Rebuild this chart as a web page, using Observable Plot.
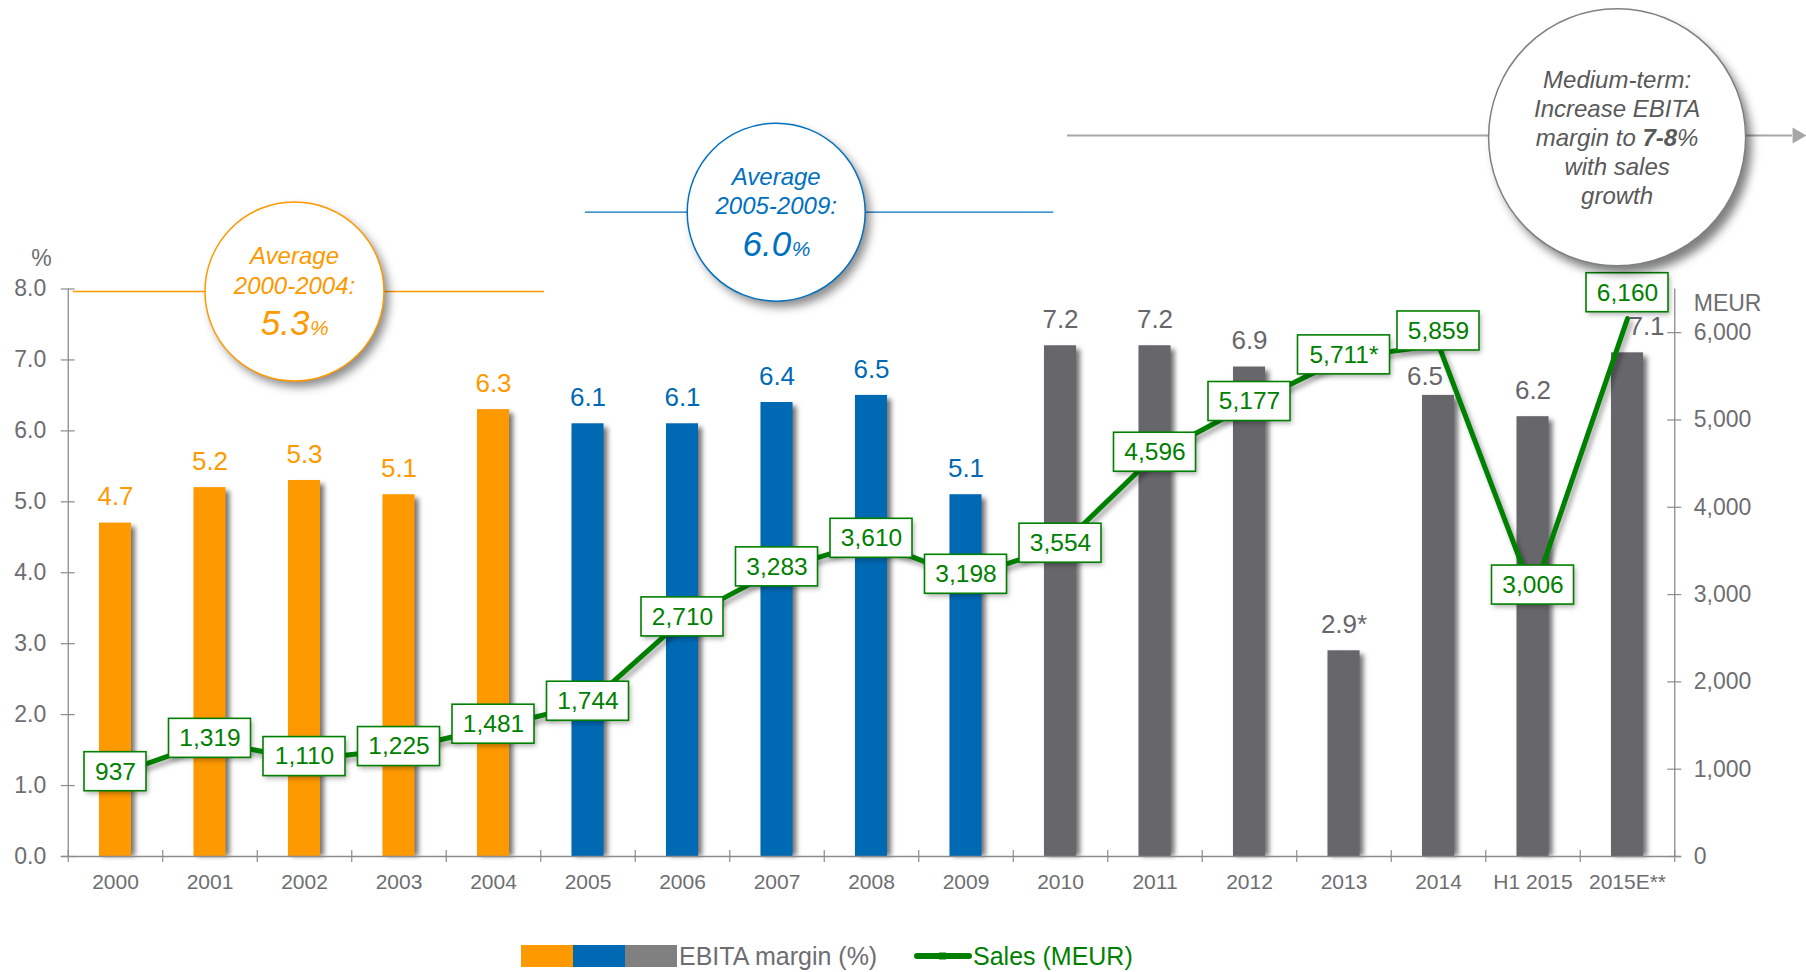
<!DOCTYPE html>
<html>
<head>
<meta charset="utf-8">
<script src="https://cdn.jsdelivr.net/npm/d3@7"></script>
<script src="https://cdn.jsdelivr.net/npm/@observablehq/plot@0.6"></script>
<style>
  html, body { margin: 0; padding: 0; background: #fff; overflow: hidden; }
  body { font-family: "Liberation Sans", Arial, sans-serif; }
  #wrap { position: relative; width: 1806px; height: 972px; overflow: hidden; background: #fff; }
  #chart svg { display: block; }
  #legend { position: absolute; left: 0; top: 930px; width: 1806px; height: 42px; }
</style>
</head>
<body>
<div id="wrap"><div id="chart"></div><div id="legend"></div></div>
<script>
// ---------------- data ----------------
const categories = ["2000","2001","2002","2003","2004","2005","2006","2007","2008","2009","2010","2011","2012","2013","2014","H1 2015","2015E**"];
const ebitaMargin = [4.7, 5.2, 5.3, 5.1, 6.3, 6.1, 6.1, 6.4, 6.5, 5.1, 7.2, 7.2, 6.9, 2.9, 6.5, 6.2, 7.1];
const ebitaLabels = ["4.7","5.2","5.3","5.1","6.3","6.1","6.1","6.4","6.5","5.1","7.2","7.2","6.9","2.9*","6.5","6.2","7.1"];
const periods = ["2000-2004","2000-2004","2000-2004","2000-2004","2000-2004",
                 "2005-2009","2005-2009","2005-2009","2005-2009","2005-2009",
                 "2010-2015","2010-2015","2010-2015","2010-2015","2010-2015","2010-2015","2010-2015"];
const periodNames = ["2000-2004","2005-2009","2010-2015"];
const periodColors = ["#FF9900","#0069B4","#67666B"];
const sales = [937, 1319, 1110, 1225, 1481, 1744, 2710, 3283, 3610, 3198, 3554, 4596, 5177, 5711, 5859, 3006, 6160];
const salesLabels = ["937","1,319","1,110","1,225","1,481","1,744","2,710","3,283","3,610","3,198","3,554","4,596","5,177","5,711*","5,859","3,006","6,160"];
const leftTicks = [0, 1, 2, 3, 4, 5, 6, 7, 8];
const rightTicks = [0, 1000, 2000, 3000, 4000, 5000, 6000];
const marginMax = 8;
const salesMax = 6500;
const averageNotes = [
  {period: "2000-2004", word: "Average", range: "2000-2004:", value: "5.3", unit: "%"},
  {period: "2005-2009", word: "Average", range: "2005-2009:", value: "6.0", unit: "%"}
];
const targetLines = ["Medium-term:", "Increase EBITA", "margin to", "7-8", "%", "with sales", "growth"];
const legendItems = ["EBITA margin (%)", "Sales (MEUR)"];

// ---------------- styling / layout ----------------
const green = "#008000";
const axisGray = "#8C8C8C";
const textGray = "#6D6E71";
const shadowS = "#010101";   // small-blur shadows
const shadowL = "#020202";   // large-blur shadows
const noteColors = {"2000-2004": "#FF9900", "2005-2009": "#0070C0"};
const W = 1806, H = 930, mL = 67.75, mR = 131.75, mT = 288.5, mB = 74;
const frameW = W - mL - mR, frameH = H - mT - mB;
const step = frameW / categories.length;
const padIn = 0.661;
const bandW = step * (1 - padIn);
const ppu = frameH / marginMax;          // pixels per % unit
const k = marginMax / salesMax;          // sales -> % axis
const last = categories[categories.length - 1];

const rows = categories.map((cat, i) => ({
  cat, ebita: ebitaMargin[i], elabel: ebitaLabels[i], period: periods[i],
  slabel: salesLabels[i], s: sales[i] * k
}));

// label placement tweaks (pixels)
const salesLift = {"2014": 14, "H1 2015": 9, "2015E**": 26};
const liftOf = d => (salesLift[d.cat] ?? 3) / ppu;
const barLabelNudge = {"2014": [-13.5, 7], "2015E**": [19, 0]};

const salesFs = 24.5;
const charW = {",": 0.278, "*": 0.389, ".": 0.278};
const boxW = t => Math.round([...t].reduce((a, c) => a + (charW[c] ?? 0.556), 0) * salesFs + 21);
const boxHalf = 19.5 / ppu;
const widths = [...new Set(rows.map(d => boxW(d.slabel)))];
const boxMarks = (shadow) => widths.map(w => Plot.barY(rows.filter(d => boxW(d.slabel) === w), {
  x: "cat",
  y1: d => d.s + liftOf(d) - boxHalf,
  y2: d => d.s + liftOf(d) + boxHalf,
  insetLeft: -(w - bandW) / 2, insetRight: -(w - bandW) / 2,
  ...(shadow
    ? {fill: shadowS, fillOpacity: 0.3, dx: 2, dy: 3}
    : {fill: "white", stroke: green, strokeWidth: 1.6})
}));

// annotation layout
const noteLayout = {
  "2000-2004": {x: "2002", dx: -10, y: 7.965, r: 89.5, x1: "2000", x2: "2004", inL: -26.3, inR: -35, rangeDy: 3},
  "2005-2009": {x: "2007", dx: -0.8, y: 9.083, r: 89, x1: "2005", x2: "2010", inL: 13.5, inR: 22.7, rangeDy: 1.6}
};
const target = {x: last, dx: -10.4, y: 10.139, lineY: 10.164, r: 128.5};

const one = [{}];
const noteMarks = [];
for (const n of averageNotes) {
  const L = noteLayout[n.period], c = noteColors[n.period];
  noteMarks.push(
    Plot.ruleY(one, {y: () => L.y, x1: () => L.x1, x2: () => L.x2, insetLeft: L.inL, insetRight: L.inR, stroke: c, strokeWidth: 1.3}),
    Plot.dot(one, {x: () => L.x, y: () => L.y, r: L.r, dx: L.dx + 5, dy: 6, fill: shadowL, fillOpacity: 0.45}),
    Plot.dot(one, {x: () => L.x, y: () => L.y, r: L.r, dx: L.dx, fill: "white", stroke: c, strokeWidth: 1.5}),
    Plot.text([n.word], {x: () => L.x, y: () => L.y, text: d => d, dx: L.dx, dy: -27, lineAnchor: "bottom", fontSize: 24, fontStyle: "italic", fill: c}),
    Plot.text([n.range], {x: () => L.x, y: () => L.y, text: d => d, dx: L.dx, dy: L.rangeDy, lineAnchor: "bottom", fontSize: 24, fontStyle: "italic", fill: c}),
    Plot.text([n.value], {x: () => L.x, y: () => L.y, text: d => d, dx: L.dx + 15, dy: 44, lineAnchor: "bottom", textAnchor: "end", fontSize: 35, fontStyle: "italic", fill: c}),
    Plot.text([n.unit], {x: () => L.x, y: () => L.y, text: d => d, dx: L.dx + 15.5, dy: 44, lineAnchor: "bottom", textAnchor: "start", fontSize: 21, fontStyle: "italic", fill: c})
  );
}
const tColor = "#595959";
const tText = (t, dx, dy, anchor, bold) => Plot.text([t], {
  x: () => target.x, y: () => target.y, text: d => d, dx: target.dx + dx, dy,
  lineAnchor: "bottom", textAnchor: anchor, fontSize: 24, fontStyle: "italic",
  fontWeight: bold ? "bold" : "normal", fill: tColor
});
noteMarks.push(
  Plot.ruleY(one, {y: () => target.lineY, x1: () => "2010", x2: () => last, insetLeft: 23, insetRight: -149, stroke: "#A6A6A6", strokeWidth: 2}),
  Plot.dot(one, {x: () => last, y: () => target.lineY, symbol: "triangle", rotate: 90, r: 6, dx: 169.7, fill: "#A6A6A6"}),
  Plot.dot(one, {x: () => target.x, y: () => target.y, r: target.r, dx: target.dx + 6, dy: 8, fill: shadowL, fillOpacity: 0.5}),
  Plot.dot(one, {x: () => target.x, y: () => target.y, r: target.r, dx: target.dx, fill: "white", stroke: "#808080", strokeWidth: 1.5}),
  tText(targetLines[0], 0, -49, "middle"),
  tText(targetLines[1], 0, -20, "middle"),
  tText(targetLines[2], -81.4, 9, "start"),
  tText(targetLines[3], 25.3, 9, "start", true),
  tText(targetLines[4], 60, 9, "start"),
  tText(targetLines[5], 0, 38, "middle"),
  tText(targetLines[6], 0, 67, "middle")
);

const chart = Plot.plot({
  width: W, height: H,
  marginLeft: mL, marginRight: mR, marginTop: mT, marginBottom: mB,
  x: {type: "band", domain: categories, paddingInner: padIn, paddingOuter: padIn / 2, round: false, axis: null},
  y: {domain: [0, marginMax], axis: null},
  color: {domain: periodNames, range: periodColors},
  style: {fontFamily: "'Liberation Sans', Arial, sans-serif", background: "white", overflow: "visible"},
  marks: [
    // bars
    Plot.barY(rows, {x: "cat", y: "ebita", fill: shadowS, fillOpacity: 0.55, dx: 4, dy: 4, insetBottom: 4}),
    Plot.barY(rows, {x: "cat", y: "ebita", fill: "period"}),
    // bar labels
    Plot.text(rows.filter(d => !barLabelNudge[d.cat]), {x: "cat", y: "ebita", text: "elabel", fill: "period", dy: -26, fontSize: 26}),
    ...Object.entries(barLabelNudge).map(([c, [ndx, ndy]]) =>
      Plot.text(rows.filter(d => d.cat === c), {x: "cat", y: "ebita", text: "elabel", fill: "period", dx: ndx, dy: -26 + ndy, fontSize: 26})),
    // sales line
    Plot.lineY(rows, {x: "cat", y: "s", stroke: shadowS, strokeOpacity: 0.35, strokeWidth: 5, dx: 3, dy: 4}),
    Plot.lineY(rows, {x: "cat", y: "s", stroke: green, strokeWidth: 5, strokeLinejoin: "round"}),
    ...boxMarks(true),
    ...boxMarks(false),
    Plot.text(rows, {x: "cat", y: d => d.s + liftOf(d), text: "slabel", fill: green, fontSize: salesFs}),
    // annotations
    ...noteMarks,
    // axes
    Plot.tickX([categories[0]], {x: d => d, dx: -step / 2, stroke: axisGray, strokeWidth: 1.3}),
    Plot.tickX([last], {x: d => d, dx: step / 2, stroke: axisGray, strokeWidth: 1.3}),
    Plot.tickY([0], {y: d => d, insetLeft: -7, insetRight: -7, stroke: axisGray, strokeWidth: 1.3}),
    Plot.tickX(categories, {x: d => d, dx: -step / 2, insetTop: frameH - 6, insetBottom: -6, stroke: axisGray, strokeWidth: 1.2}),
    Plot.tickX([last], {x: d => d, dx: step / 2, insetTop: frameH - 6, insetBottom: -6, stroke: axisGray, strokeWidth: 1.2}),
    Plot.tickY(leftTicks, {y: d => d, insetLeft: -7, insetRight: frameW - 7, stroke: axisGray, strokeWidth: 1.2}),
    Plot.tickY(rightTicks, {y: d => d * k, insetLeft: frameW - 7, insetRight: -7, stroke: axisGray, strokeWidth: 1.2}),
    Plot.text(leftTicks, {y: d => d, text: d => d.toFixed(1), frameAnchor: "left", textAnchor: "end", dx: -22, fontSize: 23, fill: textGray}),
    Plot.text(rightTicks, {y: d => d * k, text: d => d3.format(",")(d), frameAnchor: "right", textAnchor: "start", dx: 19, fontSize: 23, fill: textGray}),
    Plot.text(["%"], {y: () => marginMax, text: d => d, frameAnchor: "left", textAnchor: "middle", dx: -26.75, dy: -30.5, fontSize: 23, fill: textGray}),
    Plot.text(["MEUR"], {y: () => marginMax, text: d => d, frameAnchor: "right", textAnchor: "start", dx: 19, dy: 14.5, fontSize: 23, fill: textGray}),
    Plot.text(categories, {x: d => d, text: d => d, frameAnchor: "bottom", lineAnchor: "middle", dy: 26, fontSize: 21, fill: textGray})
  ]
});

// soft shadows: blur the groups drawn in the shadow colours
const svgSel = d3.select(chart);
const defs = svgSel.insert("defs", ":first-child");
[["soft-s", 2.4], ["soft-l", 5]].forEach(([id, sd]) => {
  defs.append("filter").attr("id", id)
    .attr("x", "-30%").attr("y", "-30%").attr("width", "160%").attr("height", "160%")
    .append("feGaussianBlur").attr("stdDeviation", sd);
});
svgSel.selectAll("g").each(function () {
  const f = (this.getAttribute("fill") || "").toLowerCase();
  const s = (this.getAttribute("stroke") || "").toLowerCase();
  if (f === shadowS || s === shadowS) this.setAttribute("filter", "url(#soft-s)");
  if (f === shadowL || s === shadowL) this.setAttribute("filter", "url(#soft-l)");
});

document.getElementById("chart").appendChild(chart);

// legend (HTML below the SVG)
const legend = document.getElementById("legend");
let html = `<div style="position:absolute;left:521px;top:15px;height:22px;display:flex;align-items:center;">`;
[periodColors[0], periodColors[1], "#808080"].forEach(c => {
  html += `<span style="display:inline-block;width:52px;height:22px;background:${c}"></span>`;
});
html += `<span style="margin-left:2px;font-size:25px;color:${textGray};line-height:22px;">${legendItems[0]}</span></div>`;
html += `<div style="position:absolute;left:913px;top:15px;height:22px;display:flex;align-items:center;">
  <svg width="60" height="22" style="display:block"><line x1="4" y1="11" x2="56" y2="11" stroke="${green}" stroke-width="6" stroke-linecap="round"/><rect x="26" y="7.5" width="7" height="7" fill="${green}"/></svg>
  <span style="font-size:25px;color:${green};line-height:22px;">${legendItems[1]}</span></div>`;
legend.innerHTML = html;
</script>
</body>
</html>
